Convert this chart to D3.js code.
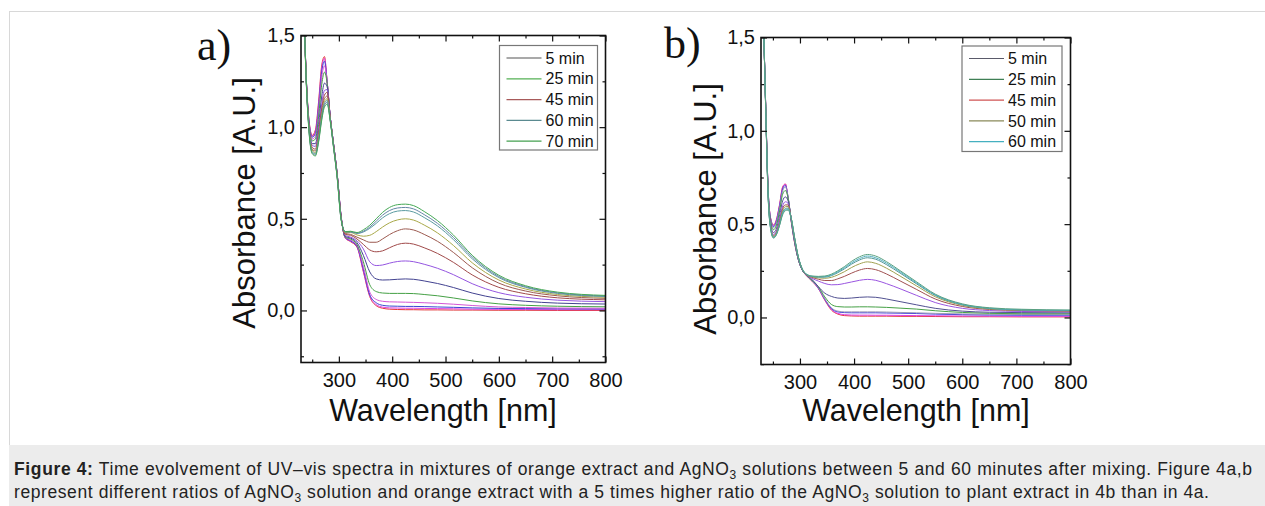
<!DOCTYPE html>
<html lang="en">
<head>
<meta charset="UTF-8">
<title>Figure 4 - UV-vis spectra</title>
<script src="https://d3js.org/d3.v7.min.js"></script>
<style>
  body { margin: 0; background: #fff; }
  svg { display: block; font-family: Arial, "Liberation Sans", sans-serif; }
  .tick text { font-size: 20px; fill: #111; }
  .tick line { stroke: #111; stroke-width: 1.2px; }
  .spectrum { fill: none; stroke-width: 1px; }
  .caption { font-size: 17.5px; fill: #222; white-space: pre; }
</style>
</head>
<body>
<svg id="fig" width="1265" height="506"></svg>
<script>
// ---- panel a: wavelengths [nm] and absorbance of each scan (earliest first)
const wavelengthsA = [230, 237, 244, 250, 256, 262, 268, 273, 278, 284, 290, 297, 304, 312, 322, 334, 346, 358, 370, 382, 395, 410, 425, 440, 460, 485, 515, 550, 600, 650, 710, 800];
const spectraA = [
  [2.3, 1.42, 1.04, .955, .985, 1.14, 1.34, 1.385, 1.25, 1.05, .91, .74, .52, .395, .375, .345, .21, .075, .026, .012, .007, .005, .004, .004, .003, .003, .002, .002, .001, .001, 0, 0],
  [2.3, 1.42, 1.035, .95, .975, 1.125, 1.325, 1.375, 1.25, 1.05, .91, .74, .52, .395, .378, .348, .215, .08, .032, .018, .014, .013, .012, .012, .011, .010, .009, .007, .006, .005, .004, .004],
  [2.3, 1.42, 1.03, .945, .965, 1.11, 1.305, 1.36, 1.25, 1.05, .91, .74, .52, .398, .38, .35, .225, .085, .042, .028, .024, .023, .022, .022, .021, .019, .017, .014, .011, .010, .009, .008],
  [2.3, 1.42, 1.025, .935, .95, 1.09, 1.275, 1.335, 1.245, 1.05, .91, .74, .52, .40, .385, .355, .24, .10, .06, .05, .047, .046, .045, .044, .042, .039, .034, .027, .019, .016, .013, .012],
  [2.3, 1.42, 1.02, .925, .935, 1.06, 1.235, 1.30, 1.24, 1.05, .91, .74, .515, .40, .39, .36, .265, .14, .103, .095, .093, .093, .093, .092, .087, .080, .068, .052, .036, .028, .023, .020],
  [2.3, 1.415, 1.01, .91, .91, 1.015, 1.17, 1.24, 1.22, 1.05, .905, .735, .515, .405, .395, .37, .30, .21, .172, .166, .167, .170, .172, .170, .161, .147, .125, .095, .065, .050, .040, .035],
  [2.3, 1.415, 1.005, .90, .895, .99, 1.13, 1.20, 1.205, 1.05, .905, .735, .51, .41, .40, .38, .335, .265, .245, .248, .258, .267, .27, .266, .252, .230, .195, .146, .097, .072, .056, .048],
  [2.3, 1.41, 1.0, .89, .88, .97, 1.105, 1.175, 1.19, 1.045, .90, .73, .51, .415, .41, .39, .36, .33, .32, .325, .342, .36, .367, .362, .342, .311, .262, .194, .126, .091, .069, .058],
  [2.3, 1.41, .995, .88, .87, .955, 1.085, 1.155, 1.17, 1.04, .90, .73, .51, .42, .415, .40, .385, .372, .372, .39, .414, .435, .445, .439, .415, .377, .316, .233, .149, .106, .080, .066],
  [2.3, 1.405, .99, .875, .86, .945, 1.07, 1.14, 1.155, 1.04, .895, .725, .505, .425, .425, .412, .405, .41, .43, .455, .478, .494, .50, .493, .466, .423, .354, .260, .166, .117, .087, .072],
  [2.3, 1.405, .985, .865, .855, .935, 1.06, 1.13, 1.145, 1.035, .895, .725, .505, .428, .428, .42, .428, .448, .475, .505, .528, .542, .545, .537, .507, .461, .386, .282, .179, .126, .093, .076],
  [2.3, 1.40, .98, .86, .848, .925, 1.05, 1.12, 1.135, 1.03, .89, .72, .50, .43, .43, .422, .432, .455, .487, .52, .545, .559, .562, .554, .523, .475, .398, .292, .185, .130, .096, .079],
  [2.3, 1.40, .975, .855, .843, .918, 1.04, 1.11, 1.125, 1.03, .89, .72, .50, .43, .432, .425, .44, .465, .50, .535, .562, .577, .58, .572, .540, .490, .411, .301, .192, .135, .100, .082]
];
const colorsA = ["#e03535", "#e040e0", "#3a45d0", "#d455d4", "#45a045", "#424290", "#9455e0", "#a04a4a", "#9c5a50", "#a8a848", "#5a9aa0", "#6585a5", "#45a855"];
const legendLabelsA = ["5 min", "25 min", "45 min", "60 min", "70 min"];
const legendColorsA = ["#555555", "#55b055", "#a85a5a", "#5a8a90", "#45a050"];

// ---- panel b
const wavelengthsB = [228, 233, 237, 241, 246, 251, 256, 262, 268, 273, 278, 284, 290, 297, 304, 312, 322, 334, 346, 358, 370, 382, 395, 410, 425, 440, 460, 485, 515, 550, 600, 650, 710, 800];
const spectraB = [
  [2.2, 1.55, 1.1, .70, .53, .495, .52, .60, .70, .715, .64, .51, .40, .31, .255, .224, .195, .155, .092, .04, .018, .01, .008, .007, .007, .007, .007, .006, .006, .005, .004, .004, .003, .003],
  [2.2, 1.55, 1.1, .70, .528, .492, .517, .597, .695, .715, .645, .515, .405, .31, .255, .224, .196, .156, .094, .044, .022, .015, .013, .0125, .0125, .012, .012, .011, .010, .009, .008, .007, .006, .006],
  [2.2, 1.55, 1.1, .698, .525, .487, .51, .59, .688, .708, .645, .515, .405, .31, .255, .225, .197, .158, .097, .048, .03, .026, .025, .025, .025, .025, .024, .023, .021, .018, .015, .013, .012, .012],
  [2.2, 1.55, 1.095, .695, .52, .48, .503, .58, .677, .70, .645, .52, .41, .31, .256, .225, .198, .16, .10, .052, .034, .03, .03, .03, .03, .03, .029, .027, .025, .022, .019, .017, .016, .015],
  [2.2, 1.55, 1.095, .69, .512, .47, .49, .565, .66, .68, .64, .52, .41, .312, .256, .226, .20, .165, .11, .07, .058, .056, .056, .057, .057, .056, .054, .050, .045, .036, .027, .022, .020, .020],
  [2.2, 1.55, 1.09, .685, .50, .455, .472, .54, .625, .646, .625, .525, .415, .315, .258, .227, .205, .165, .13, .113, .104, .102, .104, .108, .11, .108, .099, .085, .068, .049, .034, .028, .026, .025],
  [2.2, 1.55, 1.09, .68, .49, .445, .46, .52, .598, .62, .612, .527, .42, .318, .259, .228, .21, .195, .182, .175, .176, .182, .19, .199, .204, .199, .181, .154, .119, .080, .049, .037, .032, .030],
  [2.2, 1.55, 1.085, .675, .485, .438, .453, .508, .583, .603, .603, .528, .423, .32, .26, .229, .215, .205, .198, .198, .207, .22, .237, .254, .2625, .256, .233, .196, .151, .099, .059, .043, .037, .034],
  [2.2, 1.55, 1.085, .67, .48, .433, .448, .50, .572, .593, .595, .529, .425, .322, .26, .23, .218, .212, .21, .215, .228, .245, .267, .287, .298, .290, .264, .222, .170, .111, .065, .046, .039, .036],
  [2.2, 1.55, 1.08, .667, .476, .43, .445, .495, .562, .583, .586, .53, .427, .323, .261, .231, .22, .216, .216, .224, .24, .26, .285, .308, .32, .312, .283, .238, .181, .118, .068, .048, .040, .037],
  [2.2, 1.55, 1.08, .663, .473, .428, .442, .492, .556, .577, .58, .53, .428, .324, .262, .232, .221, .218, .219, .228, .245, .266, .292, .316, .329, .320, .291, .245, .186, .121, .070, .050, .041, .038],
  [2.2, 1.55, 1.08, .66, .47, .425, .44, .49, .55, .572, .575, .53, .43, .325, .262, .232, .222, .22, .222, .232, .25, .272, .30, .325, .3375, .329, .299, .251, .192, .125, .073, .052, .044, .040]
];
const colorsB = ["#e03a3a", "#e040e0", "#3a3ae0", "#9a9ab5", "#45a045", "#505090", "#9a55e0", "#a05050", "#a0a050", "#509595", "#50b0c0", "#5aa080"];
const legendLabelsB = ["5 min", "25 min", "45 min", "50 min", "60 min"];
const legendColorsB = ["#5a5a6a", "#3f7f55", "#d05555", "#8a8a5a", "#45b0c0"];

// ---- shared axis ticks
const xMajor = [300, 400, 500, 600, 700, 800];
const xMinor = [250, 350, 450, 550, 650, 750];
const yMajor = [0, 0.5, 1.0, 1.5];
const yMinor = [-0.25, 0.25, 0.75, 1.25];

const svg = d3.select("#fig");
const comma = d => d3.format(".1f")(d).replace(".", ",");

// figure frame + caption band
svg.append("rect").attr("x", 9.5).attr("y", 11.5).attr("width", 1270).attr("height", 434)
  .attr("fill", "none").attr("stroke", "#d8d8d8");
svg.append("rect").attr("x", 9).attr("y", 445).attr("width", 1270).attr("height", 70)
  .attr("fill", "#ececec");

const drawPanel = (p) => {
  const x = d3.scaleLinear().domain(p.xDomain).range([p.left, p.right]);
  const y = d3.scaleLinear().domain(p.yDomain).range([p.bottom, p.top]);
  const g = svg.append("g");

  g.append("clipPath").attr("id", "clip-" + p.id).append("rect")
    .attr("x", p.left).attr("y", p.top)
    .attr("width", p.right - p.left).attr("height", p.bottom - p.top);

  const line = d3.line()
    .x((d, i) => x(p.wl[i]))
    .y(d => y(d))
    .curve(d3.curveMonotoneX);

  g.append("g").attr("clip-path", `url(#clip-${p.id})`)
    .selectAll("path").data(p.spectra).join("path")
    .attr("class", "spectrum")
    .attr("stroke", (d, i) => p.colors[i])
    .attr("d", line);

  // ticks on all four sides, pointing inward (Origin style)
  const sides = [
    { fn: d3.axisBottom, s: x, t: `translate(0,${p.bottom})`, major: xMajor, minor: xMinor, fmt: d3.format("d"), pad: 10 },
    { fn: d3.axisTop, s: x, t: `translate(0,${p.top})`, major: xMajor, minor: xMinor, fmt: null },
    { fn: d3.axisLeft, s: y, t: `translate(${p.left},0)`, major: yMajor, minor: yMinor, fmt: comma, pad: 6 },
    { fn: d3.axisRight, s: y, t: `translate(${p.right},0)`, major: yMajor, minor: yMinor, fmt: null }
  ];
  sides.forEach(sd => {
    g.append("g").attr("transform", sd.t)
      .call(sd.fn(sd.s).tickValues(sd.minor).tickSizeInner(-3).tickSizeOuter(0).tickFormat(""))
      .call(a => a.select(".domain").remove());
    g.append("g").attr("transform", sd.t)
      .call(sd.fn(sd.s).tickValues(sd.major).tickSizeInner(-6).tickSizeOuter(0)
        .tickPadding(sd.pad || 3).tickFormat(sd.fmt || (() => "")))
      .call(a => a.select(".domain").remove());
  });

  g.append("rect").attr("x", p.left).attr("y", p.top)
    .attr("width", p.right - p.left).attr("height", p.bottom - p.top)
    .attr("fill", "none").attr("stroke", "#111").attr("stroke-width", 1.6);

  // axis titles
  g.append("text").attr("x", p.xTitleX).attr("y", 421)
    .attr("text-anchor", "middle").attr("font-size", 30.5).attr("fill", "#111")
    .text("Wavelength [nm]");
  g.append("text")
    .attr("transform", `translate(${p.yTitleX},${p.yTitleY}) rotate(-90)`)
    .attr("text-anchor", "middle").attr("font-size", 31).attr("fill", "#111")
    .text("Absorbance [A.U.]");

  // panel letter
  g.append("text").attr("x", p.letterX).attr("y", p.letterY)
    .attr("font-family", "'Liberation Serif', 'DejaVu Serif', serif")
    .attr("font-size", 44).attr("fill", "#111").text(p.letter);

  // legend
  const lg = g.append("g");
  lg.append("rect").attr("x", p.legend.x).attr("y", p.legend.y)
    .attr("width", p.legend.w).attr("height", p.legend.h)
    .attr("fill", "#fff").attr("stroke", "#777").attr("stroke-width", 1.2);
  p.legendLabels.forEach((lab, i) => {
    const yy = p.legend.y + 12.5 + i * 20.8;
    lg.append("line").attr("x1", p.legend.x + 7).attr("x2", p.legend.x + 42)
      .attr("y1", yy).attr("y2", yy)
      .attr("stroke", p.legendColors[i]).attr("stroke-width", 1.2);
    lg.append("text").attr("x", p.legend.x + 46).attr("y", yy + 5.6)
      .attr("font-size", 16).attr("fill", "#111").text(lab);
  });
};

drawPanel({
  id: "a", letter: "a)", letterX: 197, letterY: 60,
  wl: wavelengthsA, spectra: spectraA, colors: colorsA,
  legendLabels: legendLabelsA, legendColors: legendColorsA,
  xDomain: [229, 800], yDomain: [-0.284, 1.5],
  left: 301, right: 605.5, top: 35.5, bottom: 362.5,
  xTitleX: 443, yTitleX: 255, yTitleY: 203,
  legend: { x: 499.5, y: 45.5, w: 98, h: 104.5 }
});

drawPanel({
  id: "b", letter: "b)", letterX: 664, letterY: 58,
  wl: wavelengthsB, spectra: spectraB, colors: colorsB,
  legendLabels: legendLabelsB, legendColors: legendColorsB,
  xDomain: [228, 800], yDomain: [-0.252, 1.5],
  left: 761, right: 1070.5, top: 37.5, bottom: 364.5,
  xTitleX: 916, yTitleX: 716, yTitleY: 209,
  legend: { x: 962, y: 46, w: 100, h: 105.5 }
});

// caption
const cap1 = svg.append("text").attr("class", "caption").attr("x", 14).attr("y", 475)
  .attr("textLength", 1238).attr("lengthAdjust", "spacing");
cap1.append("tspan").attr("font-weight", "bold").text("Figure 4:");
cap1.append("tspan").text(" Time evolvement of UV\u2013vis spectra in mixtures of orange extract and AgNO");
cap1.append("tspan").attr("font-size", 12).attr("dy", 4).text("3");
cap1.append("tspan").attr("dy", -4).text(" solutions between 5 and 60 minutes after mixing. Figure 4a,b");

const cap2 = svg.append("text").attr("class", "caption").attr("x", 14).attr("y", 497.5)
  .attr("textLength", 1195).attr("lengthAdjust", "spacing");
cap2.append("tspan").text("represent different ratios of AgNO");
cap2.append("tspan").attr("font-size", 12).attr("dy", 4).text("3");
cap2.append("tspan").attr("dy", -4).text(" solution and orange extract with a 5 times higher ratio of the AgNO");
cap2.append("tspan").attr("font-size", 12).attr("dy", 4).text("3");
cap2.append("tspan").attr("dy", -4).text(" solution to plant extract in 4b than in 4a.");
</script>
</body>
</html>
